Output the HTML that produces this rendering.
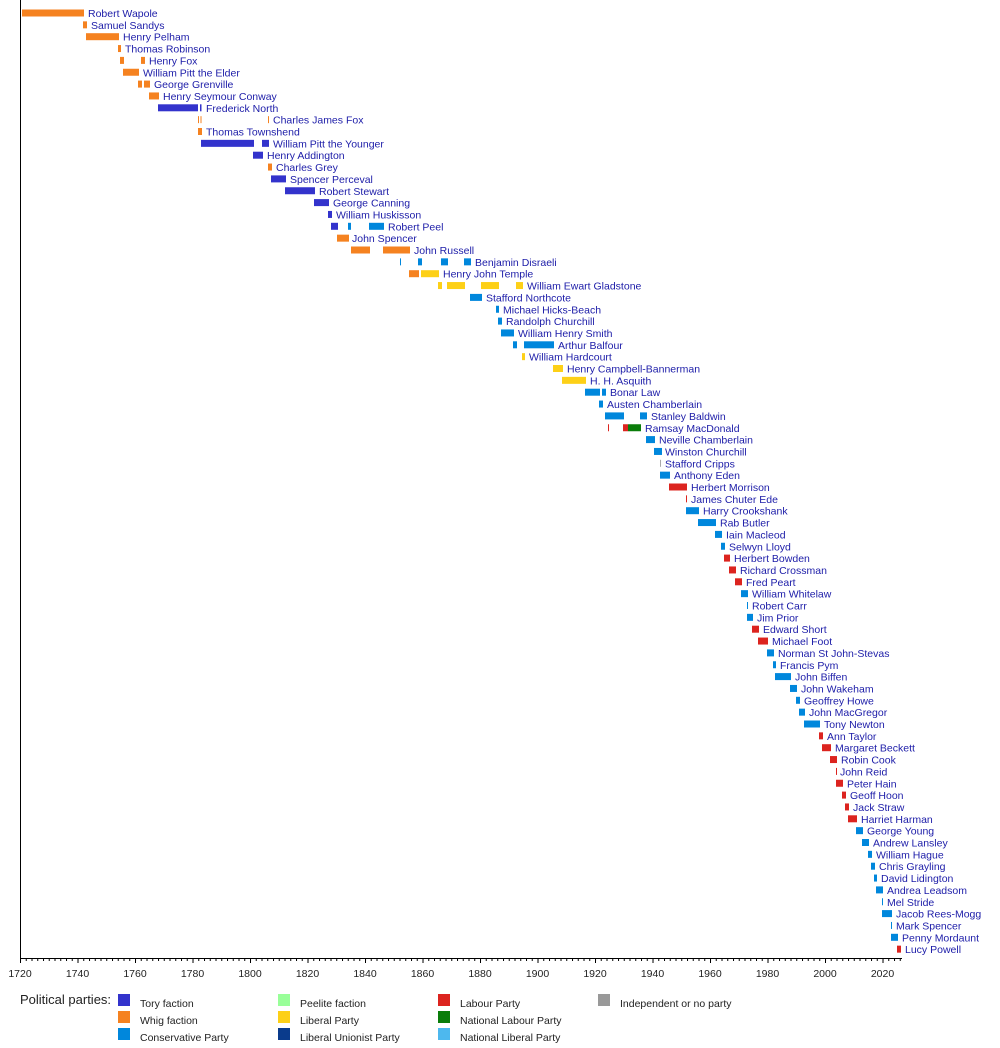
<!DOCTYPE html>
<html><head><meta charset="utf-8"><style>
html,body{margin:0;padding:0;background:#fff;}
svg{display:block;font-family:"Liberation Sans",Arial,sans-serif;}
.n{font-size:10.5px;fill:#1c1ca8;}
.a{font-size:10.5px;fill:#222;text-anchor:middle;}
.l{font-size:10.5px;fill:#222;}
.T{fill:#3333cc}.W{fill:#f58220}.C{fill:#0087dc}.L{fill:#fdd017}.R{fill:#dc241f}.G{fill:#0a7d0a}.I{fill:#aaaaaa}
</style></head><body>
<svg width="1000" height="1048" viewBox="0 0 1000 1048">
<defs>
<pattern id="mi" x="20" y="0" width="5.75" height="10" patternUnits="userSpaceOnUse"><rect width="1" height="10" fill="#000"/></pattern>
<pattern id="ma" x="20" y="0" width="57.5" height="10" patternUnits="userSpaceOnUse"><rect width="1" height="10" fill="#000"/></pattern>
</defs>
<rect x="20" y="0" width="1" height="959" fill="#000"/>
<rect x="20" y="958" width="882" height="1" fill="#000"/>
<rect x="20" y="958" width="882" height="3" fill="url(#mi)"/>
<rect x="20" y="958" width="870" height="5" fill="url(#ma)"/>
<g class="a">
<text x="20" y="977">1720</text><text x="77.5" y="977">1740</text><text x="135" y="977">1760</text><text x="192.5" y="977">1780</text><text x="250" y="977">1800</text><text x="307.5" y="977">1820</text><text x="365" y="977">1840</text><text x="422.5" y="977">1860</text><text x="480" y="977">1880</text><text x="537.5" y="977">1900</text><text x="595" y="977">1920</text><text x="652.5" y="977">1940</text><text x="710" y="977">1960</text><text x="767.5" y="977">1980</text><text x="825" y="977">2000</text><text x="882.5" y="977">2020</text>
</g>

<g transform="translate(0,13)"><rect class="W" x="22" y="-3.5" width="62" height="7"/><text class="n" x="88" y="4">Robert Wapole</text></g>
<g transform="translate(0,24.85)"><rect class="W" x="83" y="-3.5" width="4" height="7"/><text class="n" x="91" y="4">Samuel Sandys</text></g>
<g transform="translate(0,36.7)"><rect class="W" x="86" y="-3.5" width="33" height="7"/><text class="n" x="123" y="4">Henry Pelham</text></g>
<g transform="translate(0,48.55)"><rect class="W" x="118" y="-3.5" width="3" height="7"/><text class="n" x="125" y="4">Thomas Robinson</text></g>
<g transform="translate(0,60.4)"><rect class="W" x="120" y="-3.5" width="4" height="7"/><rect class="W" x="141" y="-3.5" width="4" height="7"/><text class="n" x="149" y="4">Henry Fox</text></g>
<g transform="translate(0,72.25)"><rect class="W" x="123" y="-3.5" width="16" height="7"/><text class="n" x="143" y="4">William Pitt the Elder</text></g>
<g transform="translate(0,84.1)"><rect class="W" x="138" y="-3.5" width="4" height="7"/><rect class="W" x="144" y="-3.5" width="6" height="7"/><text class="n" x="154" y="4">George Grenville</text></g>
<g transform="translate(0,95.95)"><rect class="W" x="149" y="-3.5" width="10" height="7"/><text class="n" x="163" y="4">Henry Seymour Conway</text></g>
<g transform="translate(0,107.8)"><rect class="T" x="158" y="-3.5" width="40" height="7"/><rect class="T" x="200" y="-3.5" width="1.5" height="7"/><text class="n" x="206" y="4">Frederick North</text></g>
<g transform="translate(0,119.65)"><rect class="W" x="198" y="-3.5" width="1" height="7"/><rect class="W" x="200.5" y="-3.5" width="1" height="7"/><rect class="W" x="268" y="-3.5" width="1" height="7"/><text class="n" x="273" y="4">Charles James Fox</text></g>
<g transform="translate(0,131.5)"><rect class="W" x="198" y="-3.5" width="4" height="7"/><text class="n" x="206" y="4">Thomas Townshend</text></g>
<g transform="translate(0,143.35)"><rect class="T" x="201" y="-3.5" width="53" height="7"/><rect class="T" x="262" y="-3.5" width="7" height="7"/><text class="n" x="273" y="4">William Pitt the Younger</text></g>
<g transform="translate(0,155.2)"><rect class="T" x="253" y="-3.5" width="10" height="7"/><text class="n" x="267" y="4">Henry Addington</text></g>
<g transform="translate(0,167.05)"><rect class="W" x="268" y="-3.5" width="4" height="7"/><text class="n" x="276" y="4">Charles Grey</text></g>
<g transform="translate(0,178.9)"><rect class="T" x="271" y="-3.5" width="15" height="7"/><text class="n" x="290" y="4">Spencer Perceval</text></g>
<g transform="translate(0,190.75)"><rect class="T" x="285" y="-3.5" width="30" height="7"/><text class="n" x="319" y="4">Robert Stewart</text></g>
<g transform="translate(0,202.6)"><rect class="T" x="314" y="-3.5" width="15" height="7"/><text class="n" x="333" y="4">George Canning</text></g>
<g transform="translate(0,214.45)"><rect class="T" x="328" y="-3.5" width="4" height="7"/><text class="n" x="336" y="4">William Huskisson</text></g>
<g transform="translate(0,226.3)"><rect class="T" x="331" y="-3.5" width="7" height="7"/><rect class="C" x="348" y="-3.5" width="3" height="7"/><rect class="C" x="369" y="-3.5" width="15" height="7"/><text class="n" x="388" y="4">Robert Peel</text></g>
<g transform="translate(0,238.15)"><rect class="W" x="337" y="-3.5" width="12" height="7"/><text class="n" x="352" y="4">John Spencer</text></g>
<g transform="translate(0,250)"><rect class="W" x="351" y="-3.5" width="19" height="7"/><rect class="W" x="383" y="-3.5" width="27" height="7"/><text class="n" x="414" y="4">John Russell</text></g>
<g transform="translate(0,261.85)"><rect class="C" x="400" y="-3.5" width="1" height="7"/><rect class="C" x="418" y="-3.5" width="4" height="7"/><rect class="C" x="441" y="-3.5" width="7" height="7"/><rect class="C" x="464" y="-3.5" width="7" height="7"/><text class="n" x="475" y="4">Benjamin Disraeli</text></g>
<g transform="translate(0,273.7)"><rect class="W" x="409" y="-3.5" width="10" height="7"/><rect class="L" x="421" y="-3.5" width="18" height="7"/><text class="n" x="443" y="4">Henry John Temple</text></g>
<g transform="translate(0,285.55)"><rect class="L" x="438" y="-3.5" width="4" height="7"/><rect class="L" x="447" y="-3.5" width="18" height="7"/><rect class="L" x="481" y="-3.5" width="18" height="7"/><rect class="L" x="516" y="-3.5" width="7" height="7"/><text class="n" x="527" y="4">William Ewart Gladstone</text></g>
<g transform="translate(0,297.4)"><rect class="C" x="470" y="-3.5" width="12" height="7"/><text class="n" x="486" y="4">Stafford Northcote</text></g>
<g transform="translate(0,309.25)"><rect class="C" x="496" y="-3.5" width="3" height="7"/><text class="n" x="503" y="4">Michael Hicks-Beach</text></g>
<g transform="translate(0,321.1)"><rect class="C" x="498" y="-3.5" width="4" height="7"/><text class="n" x="506" y="4">Randolph Churchill</text></g>
<g transform="translate(0,332.95)"><rect class="C" x="501" y="-3.5" width="13" height="7"/><text class="n" x="518" y="4">William Henry Smith</text></g>
<g transform="translate(0,344.8)"><rect class="C" x="513" y="-3.5" width="4" height="7"/><rect class="C" x="524" y="-3.5" width="30" height="7"/><text class="n" x="558" y="4">Arthur Balfour</text></g>
<g transform="translate(0,356.65)"><rect class="L" x="522" y="-3.5" width="3" height="7"/><text class="n" x="529" y="4">William Hardcourt</text></g>
<g transform="translate(0,368.5)"><rect class="L" x="553" y="-3.5" width="10" height="7"/><text class="n" x="567" y="4">Henry Campbell-Bannerman</text></g>
<g transform="translate(0,380.35)"><rect class="L" x="562" y="-3.5" width="24" height="7"/><text class="n" x="590" y="4">H. H. Asquith</text></g>
<g transform="translate(0,392.2)"><rect class="C" x="585" y="-3.5" width="15" height="7"/><rect class="C" x="602" y="-3.5" width="4" height="7"/><text class="n" x="610" y="4">Bonar Law</text></g>
<g transform="translate(0,404.05)"><rect class="C" x="599" y="-3.5" width="4" height="7"/><text class="n" x="607" y="4">Austen Chamberlain</text></g>
<g transform="translate(0,415.9)"><rect class="C" x="605" y="-3.5" width="19" height="7"/><rect class="C" x="640" y="-3.5" width="7" height="7"/><text class="n" x="651" y="4">Stanley Baldwin</text></g>
<g transform="translate(0,427.75)"><rect class="R" x="608" y="-3.5" width="1" height="7"/><rect class="R" x="623" y="-3.5" width="5" height="7"/><rect class="G" x="628" y="-3.5" width="13" height="7"/><text class="n" x="645" y="4">Ramsay MacDonald</text></g>
<g transform="translate(0,439.6)"><rect class="C" x="646" y="-3.5" width="9" height="7"/><text class="n" x="659" y="4">Neville Chamberlain</text></g>
<g transform="translate(0,451.45)"><rect class="C" x="654" y="-3.5" width="8" height="7"/><text class="n" x="665" y="4">Winston Churchill</text></g>
<g transform="translate(0,463.3)"><rect class="I" x="660" y="-3.5" width="1" height="7"/><text class="n" x="665" y="4">Stafford Cripps</text></g>
<g transform="translate(0,475.15)"><rect class="C" x="660" y="-3.5" width="10" height="7"/><text class="n" x="674" y="4">Anthony Eden</text></g>
<g transform="translate(0,487)"><rect class="R" x="669" y="-3.5" width="18" height="7"/><text class="n" x="691" y="4">Herbert Morrison</text></g>
<g transform="translate(0,498.85)"><rect class="R" x="686" y="-3.5" width="1" height="7"/><text class="n" x="691" y="4">James Chuter Ede</text></g>
<g transform="translate(0,510.7)"><rect class="C" x="686" y="-3.5" width="13" height="7"/><text class="n" x="703" y="4">Harry Crookshank</text></g>
<g transform="translate(0,522.55)"><rect class="C" x="698" y="-3.5" width="18" height="7"/><text class="n" x="720" y="4">Rab Butler</text></g>
<g transform="translate(0,534.4)"><rect class="C" x="715" y="-3.5" width="7" height="7"/><text class="n" x="726" y="4">Iain Macleod</text></g>
<g transform="translate(0,546.25)"><rect class="C" x="721" y="-3.5" width="4" height="7"/><text class="n" x="729" y="4">Selwyn Lloyd</text></g>
<g transform="translate(0,558.1)"><rect class="R" x="724" y="-3.5" width="6" height="7"/><text class="n" x="734" y="4">Herbert Bowden</text></g>
<g transform="translate(0,569.95)"><rect class="R" x="729" y="-3.5" width="7" height="7"/><text class="n" x="740" y="4">Richard Crossman</text></g>
<g transform="translate(0,581.8)"><rect class="R" x="735" y="-3.5" width="7" height="7"/><text class="n" x="746" y="4">Fred Peart</text></g>
<g transform="translate(0,593.65)"><rect class="C" x="741" y="-3.5" width="7" height="7"/><text class="n" x="752" y="4">William Whitelaw</text></g>
<g transform="translate(0,605.5)"><rect class="C" x="747" y="-3.5" width="1" height="7"/><text class="n" x="752" y="4">Robert Carr</text></g>
<g transform="translate(0,617.35)"><rect class="C" x="747" y="-3.5" width="6" height="7"/><text class="n" x="757" y="4">Jim Prior</text></g>
<g transform="translate(0,629.2)"><rect class="R" x="752" y="-3.5" width="7" height="7"/><text class="n" x="763" y="4">Edward Short</text></g>
<g transform="translate(0,641.05)"><rect class="R" x="758" y="-3.5" width="10" height="7"/><text class="n" x="772" y="4">Michael Foot</text></g>
<g transform="translate(0,652.9)"><rect class="C" x="767" y="-3.5" width="7" height="7"/><text class="n" x="778" y="4">Norman St John-Stevas</text></g>
<g transform="translate(0,664.75)"><rect class="C" x="773" y="-3.5" width="3" height="7"/><text class="n" x="780" y="4">Francis Pym</text></g>
<g transform="translate(0,676.6)"><rect class="C" x="775" y="-3.5" width="16" height="7"/><text class="n" x="795" y="4">John Biffen</text></g>
<g transform="translate(0,688.45)"><rect class="C" x="790" y="-3.5" width="7" height="7"/><text class="n" x="801" y="4">John Wakeham</text></g>
<g transform="translate(0,700.3)"><rect class="C" x="796" y="-3.5" width="4" height="7"/><text class="n" x="804" y="4">Geoffrey Howe</text></g>
<g transform="translate(0,712.15)"><rect class="C" x="799" y="-3.5" width="6" height="7"/><text class="n" x="809" y="4">John MacGregor</text></g>
<g transform="translate(0,724)"><rect class="C" x="804" y="-3.5" width="16" height="7"/><text class="n" x="824" y="4">Tony Newton</text></g>
<g transform="translate(0,735.85)"><rect class="R" x="819" y="-3.5" width="4" height="7"/><text class="n" x="827" y="4">Ann Taylor</text></g>
<g transform="translate(0,747.7)"><rect class="R" x="822" y="-3.5" width="9" height="7"/><text class="n" x="835" y="4">Margaret Beckett</text></g>
<g transform="translate(0,759.55)"><rect class="R" x="830" y="-3.5" width="7" height="7"/><text class="n" x="841" y="4">Robin Cook</text></g>
<g transform="translate(0,771.4)"><rect class="R" x="836" y="-3.5" width="1" height="7"/><text class="n" x="840" y="4">John Reid</text></g>
<g transform="translate(0,783.25)"><rect class="R" x="836" y="-3.5" width="7" height="7"/><text class="n" x="847" y="4">Peter Hain</text></g>
<g transform="translate(0,795.1)"><rect class="R" x="842" y="-3.5" width="4" height="7"/><text class="n" x="850" y="4">Geoff Hoon</text></g>
<g transform="translate(0,806.95)"><rect class="R" x="845" y="-3.5" width="4" height="7"/><text class="n" x="853" y="4">Jack Straw</text></g>
<g transform="translate(0,818.8)"><rect class="R" x="848" y="-3.5" width="9" height="7"/><text class="n" x="861" y="4">Harriet Harman</text></g>
<g transform="translate(0,830.65)"><rect class="C" x="856" y="-3.5" width="7" height="7"/><text class="n" x="867" y="4">George Young</text></g>
<g transform="translate(0,842.5)"><rect class="C" x="862" y="-3.5" width="7" height="7"/><text class="n" x="873" y="4">Andrew Lansley</text></g>
<g transform="translate(0,854.35)"><rect class="C" x="868" y="-3.5" width="4" height="7"/><text class="n" x="876" y="4">William Hague</text></g>
<g transform="translate(0,866.2)"><rect class="C" x="871" y="-3.5" width="4" height="7"/><text class="n" x="879" y="4">Chris Grayling</text></g>
<g transform="translate(0,878.05)"><rect class="C" x="874" y="-3.5" width="3" height="7"/><text class="n" x="881" y="4">David Lidington</text></g>
<g transform="translate(0,889.9)"><rect class="C" x="876" y="-3.5" width="7" height="7"/><text class="n" x="887" y="4">Andrea Leadsom</text></g>
<g transform="translate(0,901.75)"><rect class="C" x="882" y="-3.5" width="1" height="7"/><text class="n" x="887" y="4">Mel Stride</text></g>
<g transform="translate(0,913.6)"><rect class="C" x="882" y="-3.5" width="10" height="7"/><text class="n" x="896" y="4">Jacob Rees-Mogg</text></g>
<g transform="translate(0,925.45)"><rect class="C" x="891" y="-3.5" width="1" height="7"/><text class="n" x="896" y="4">Mark Spencer</text></g>
<g transform="translate(0,937.3)"><rect class="C" x="891" y="-3.5" width="7" height="7"/><text class="n" x="902" y="4">Penny Mordaunt</text></g>
<g transform="translate(0,949.15)"><rect class="R" x="897" y="-3.5" width="4" height="7"/><text class="n" x="905" y="4">Lucy Powell</text></g>

<text x="20" y="1004" style="font-size:13px;fill:#222">Political parties:</text>
<rect x="118" y="994" width="12" height="12" fill="#3333cc"/><text class="l" x="140" y="1007">Tory faction</text>
<rect x="118" y="1011" width="12" height="12" fill="#f58220"/><text class="l" x="140" y="1024">Whig faction</text>
<rect x="118" y="1028" width="12" height="12" fill="#0087dc"/><text class="l" x="140" y="1041">Conservative Party</text>
<rect x="278" y="994" width="12" height="12" fill="#99ff99"/><text class="l" x="300" y="1007">Peelite faction</text>
<rect x="278" y="1011" width="12" height="12" fill="#fdd017"/><text class="l" x="300" y="1024">Liberal Party</text>
<rect x="278" y="1028" width="12" height="12" fill="#0a3b8c"/><text class="l" x="300" y="1041">Liberal Unionist Party</text>
<rect x="438" y="994" width="12" height="12" fill="#dc241f"/><text class="l" x="460" y="1007">Labour Party</text>
<rect x="438" y="1011" width="12" height="12" fill="#0a7d0a"/><text class="l" x="460" y="1024">National Labour Party</text>
<rect x="438" y="1028" width="12" height="12" fill="#4db8ee"/><text class="l" x="460" y="1041">National Liberal Party</text>
<rect x="598" y="994" width="12" height="12" fill="#999999"/><text class="l" x="620" y="1007">Independent or no party</text>
</svg>
</body></html>
